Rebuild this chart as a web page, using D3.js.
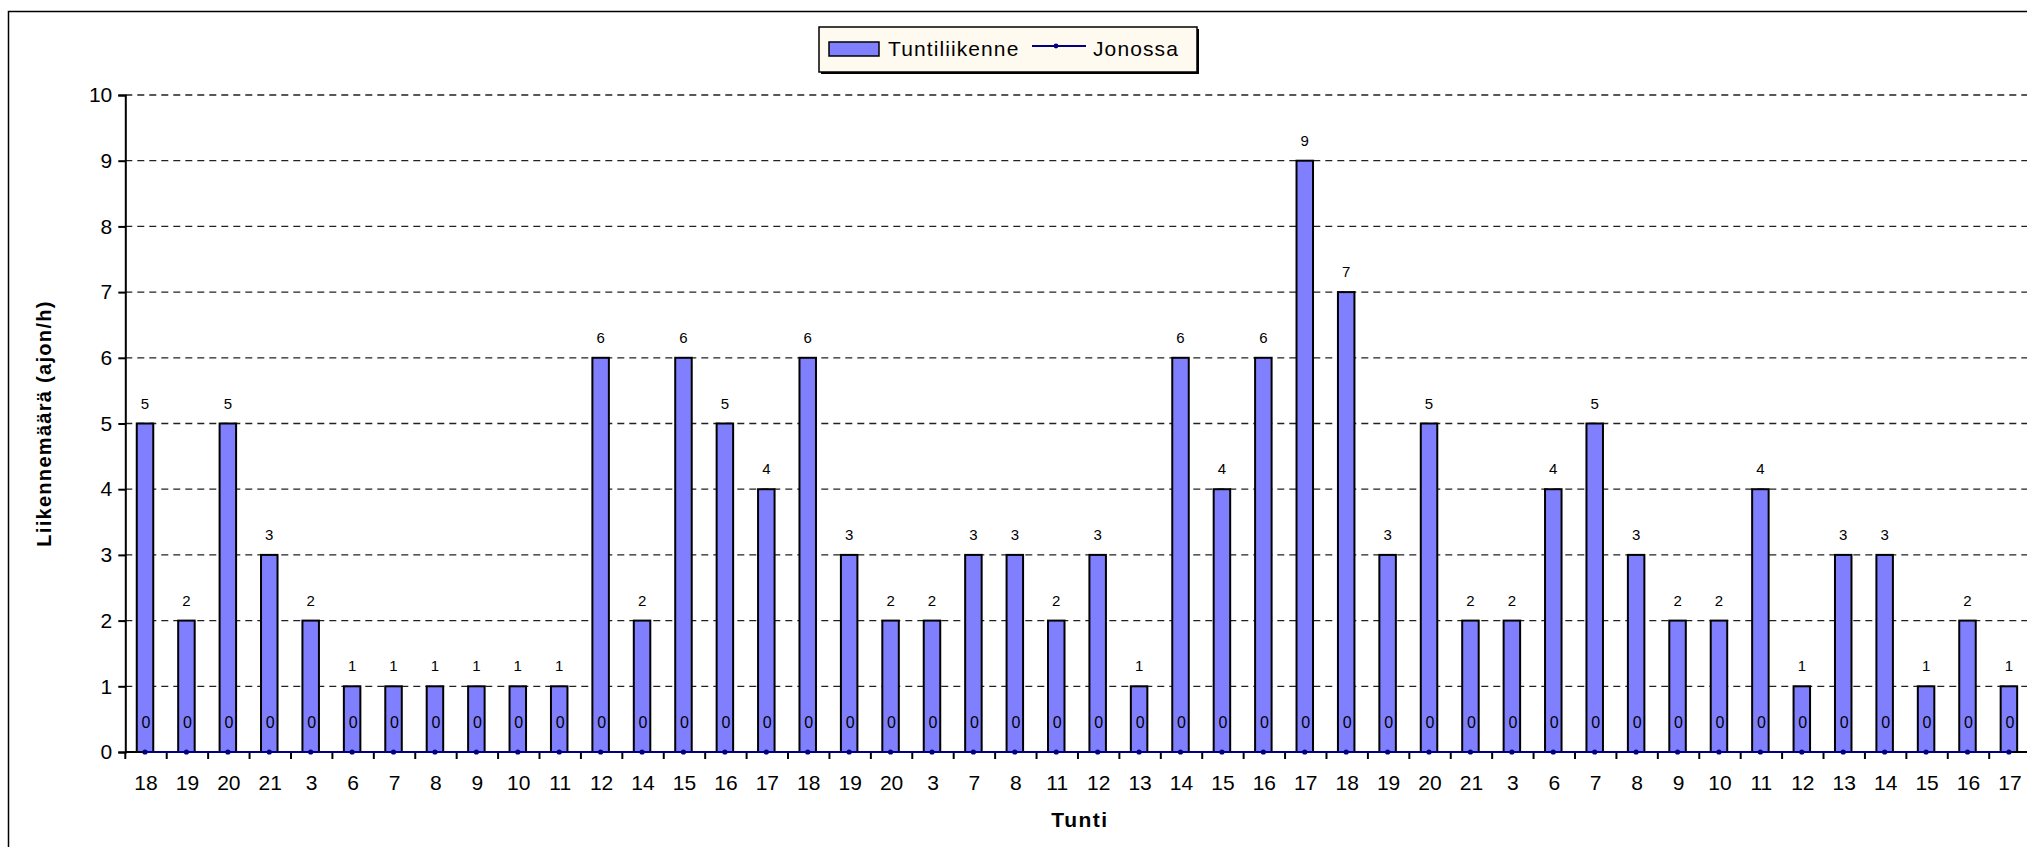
<!DOCTYPE html>
<html>
<head>
<meta charset="utf-8">
<script src="https://cdn.jsdelivr.net/npm/d3@7"></script>
<style>
  html, body { margin: 0; padding: 0; background: #fff; }
  svg { display: block; font-family: Arial, "Liberation Sans", sans-serif; }
</style>
</head>
<body>
<svg id="chart" width="2027" height="847"></svg>
<script>
// Hour labels along the x axis (one per observed hour)
const hours = [18,19,20,21,3,6,7,8,9,10,11,12,14,15,16,17,18,19,20,3,7,8,11,12,13,14,15,16,17,18,19,20,21,3,6,7,8,9,10,11,12,13,14,15,16,17];
// Hourly traffic (vehicles/h)
const tuntiliikenne = [5,2,5,3,2,1,1,1,1,1,1,6,2,6,5,4,6,3,2,2,3,3,2,3,1,6,4,6,9,7,3,5,2,2,4,5,3,2,2,4,1,3,3,1,2,1];
// Vehicles in queue
const jonossa = [0,0,0,0,0,0,0,0,0,0,0,0,0,0,0,0,0,0,0,0,0,0,0,0,0,0,0,0,0,0,0,0,0,0,0,0,0,0,0,0,0,0,0,0,0,0];
const yTicks = [0,1,2,3,4,5,6,7,8,9,10];

const svg = d3.select("#chart");
const plotLeft = 125.3, plotTop = 95, plotBottom = 752;
const band = 41.42;
const plotRight = plotLeft + band * hours.length;

const idx = hours.map((_, i) => i);
const x = d3.scaleBand().domain(idx).range([plotLeft, plotRight]).paddingInner(0).paddingOuter(0);
const y = d3.scaleLinear().domain([0, 10]).range([plotBottom, plotTop]);

// Outer chart frame
svg.append("rect")
  .attr("x", 8.5).attr("y", 11.5).attr("width", 2100).attr("height", 900)
  .attr("fill", "#fff").attr("stroke", "#000").attr("stroke-width", 1.5);

// Dashed gridlines
svg.append("g").selectAll("line")
  .data(yTicks.filter(t => t > 0))
  .join("line")
  .attr("x1", plotLeft).attr("x2", plotRight)
  .attr("y1", d => y(d)).attr("y2", d => y(d))
  .attr("stroke", "#222").attr("stroke-width", 1.3)
  .attr("stroke-dasharray", "7,5");

// Bars
const barW = 16.5;
svg.append("g").selectAll("rect")
  .data(tuntiliikenne)
  .join("rect")
  .attr("x", (d, i) => x(i) + x.bandwidth() / 2 - barW / 2 - 1)
  .attr("y", d => y(d))
  .attr("width", barW)
  .attr("height", d => y(0) - y(d))
  .attr("fill", "#8080FF")
  .attr("stroke", "#000").attr("stroke-width", 2);

// Y axis
const yAxis = d3.axisLeft(y).tickValues(yTicks).tickSize(7).tickPadding(6).tickFormat(d3.format("d"));
const gy = svg.append("g").attr("transform", `translate(${plotLeft},0)`).call(yAxis);
gy.select(".domain").attr("stroke", "#000").attr("stroke-width", 2);
gy.selectAll(".tick line").attr("stroke", "#000").attr("stroke-width", 2);
gy.selectAll(".tick text").attr("font-size", 21).attr("fill", "#000")
  .attr("font-family", "Arial, 'Liberation Sans', sans-serif");

// X axis: ticks sit on category boundaries
const gx = svg.append("g").attr("transform", `translate(0,${plotBottom})`);
gx.append("line").attr("x1", plotLeft).attr("x2", plotRight).attr("y1", 0).attr("y2", 0)
  .attr("stroke", "#000").attr("stroke-width", 2);
gx.selectAll("line.tk")
  .data(d3.range(hours.length + 1))
  .join("line").attr("class", "tk")
  .attr("x1", i => plotLeft + i * x.step()).attr("x2", i => plotLeft + i * x.step())
  .attr("y1", 0).attr("y2", 7)
  .attr("stroke", "#000").attr("stroke-width", 2);
gx.selectAll("text")
  .data(hours)
  .join("text")
  .attr("x", (d, i) => x(i) + x.bandwidth() / 2)
  .attr("y", 38)
  .attr("text-anchor", "middle")
  .attr("font-size", 21)
  .attr("fill", "#000")
  .text(d => d);

// Queue series: line with dot markers
const line = d3.line().x((d, i) => x(i) + x.bandwidth() / 2 - 1).y(d => y(d));
svg.append("path").datum(jonossa)
  .attr("d", line).attr("fill", "none")
  .attr("stroke", "#000080").attr("stroke-width", 2.2);
svg.append("g").selectAll("circle")
  .data(jonossa)
  .join("circle")
  .attr("cx", (d, i) => x(i) + x.bandwidth() / 2 - 1)
  .attr("cy", d => y(d))
  .attr("r", 2.6)
  .attr("fill", "#000080");

// Data labels
svg.append("g").selectAll("text")
  .data(tuntiliikenne)
  .join("text")
  .attr("x", (d, i) => x(i) + x.bandwidth() / 2 - 1)
  .attr("y", d => y(d) - 15)
  .attr("text-anchor", "middle")
  .attr("font-size", 15)
  .attr("fill", "#000")
  .text(d => d);
svg.append("g").selectAll("text")
  .data(jonossa)
  .join("text")
  .attr("x", (d, i) => x(i) + x.bandwidth() / 2)
  .attr("y", d => y(d) - 24)
  .attr("text-anchor", "middle")
  .attr("font-size", 16)
  .attr("fill", "#000")
  .text(d => d);

// Axis titles
svg.append("text")
  .attr("transform", `translate(51,${(plotTop + plotBottom) / 2}) rotate(-90)`)
  .attr("text-anchor", "middle")
  .attr("font-size", 20).attr("font-weight", "bold")
  .attr("letter-spacing", 1.3)
  .text("Liikennemäärä (ajon/h)");
svg.append("text")
  .attr("x", 1080).attr("y", 827)
  .attr("text-anchor", "middle")
  .attr("font-size", 21).attr("font-weight", "bold")
  .attr("letter-spacing", 1.5)
  .text("Tunti");

// Legend
const lg = svg.append("g");
lg.append("rect").attr("x", 821).attr("y", 29).attr("width", 378).attr("height", 45).attr("fill", "#000");
lg.append("rect").attr("x", 819).attr("y", 27).attr("width", 378).attr("height", 45)
  .attr("fill", "#FFFAF0").attr("stroke", "#000").attr("stroke-width", 1.5);
lg.append("rect").attr("x", 829).attr("y", 42).attr("width", 50).attr("height", 14)
  .attr("fill", "#8080FF").attr("stroke", "#000").attr("stroke-width", 1.5);
lg.append("text").attr("x", 888).attr("y", 56).attr("font-size", 21)
  .attr("letter-spacing", 1.1).text("Tuntiliikenne");
lg.append("line").attr("x1", 1032).attr("x2", 1086).attr("y1", 46).attr("y2", 46)
  .attr("stroke", "#000080").attr("stroke-width", 1.8);
lg.append("circle").attr("cx", 1056).attr("cy", 46).attr("r", 2.4).attr("fill", "#000080");
lg.append("text").attr("x", 1093).attr("y", 56).attr("font-size", 21)
  .attr("letter-spacing", 1.1).text("Jonossa");
</script>
</body>
</html>
